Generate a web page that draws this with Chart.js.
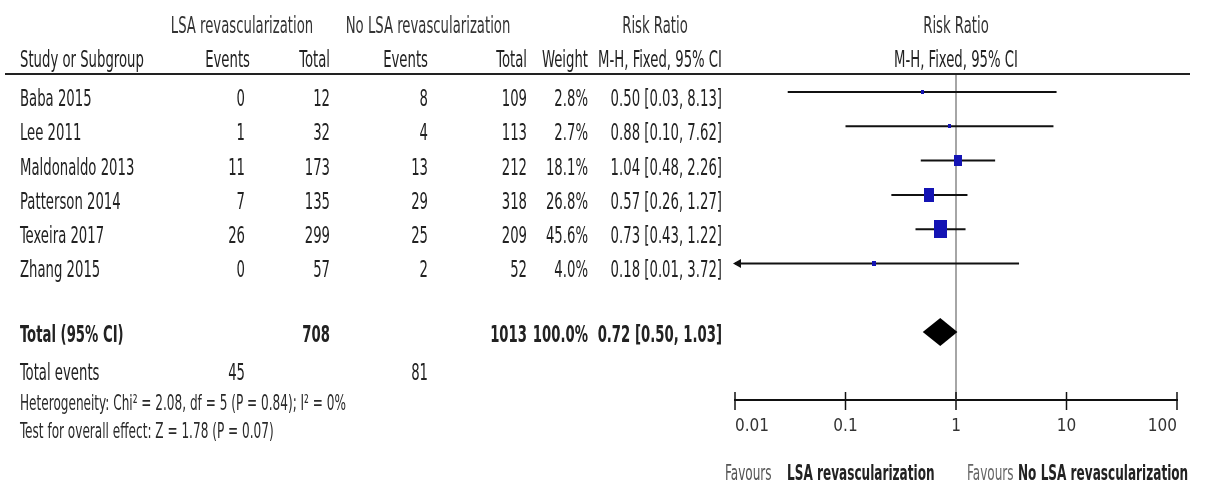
<!DOCTYPE html>
<html>
<head>
<meta charset="utf-8">
<script src="https://cdn.jsdelivr.net/npm/chart.js@4/dist/chart.umd.min.js"></script>
<style>
  html, body { margin: 0; padding: 0; background: #fff; }
  canvas { display: block; }
</style>
</head>
<body>
<canvas id="forest" width="1211" height="490"></canvas>
<script>
// Study-level data
const studies    = ['Baba 2015', 'Lee 2011', 'Maldonaldo 2013', 'Patterson 2014', 'Texeira 2017', 'Zhang 2015'];
const lsaEvents  = [0, 1, 11, 7, 26, 0];
const lsaTotal   = [12, 32, 173, 135, 299, 57];
const noEvents   = [8, 4, 13, 29, 25, 2];
const noTotal    = [109, 113, 212, 318, 209, 52];
const weights    = [2.8, 2.7, 18.1, 26.8, 45.6, 4.0];
const riskRatio  = [0.50, 0.88, 1.04, 0.57, 0.73, 0.18];
const ciLow      = [0.03, 0.10, 0.48, 0.26, 0.43, 0.01];
const ciHigh     = [8.13, 7.62, 2.26, 1.27, 1.22, 3.72];

// Pooled result
const pooledTotals  = [708, 1013];
const pooledEvents  = [45, 81];
const pooledWeight  = 100.0;
const pooledRR      = [0.72, 0.50, 1.03];   // estimate, lower, upper

// Axis
const tickValues = [0.01, 0.1, 1, 10, 100];
const tickLabels = ['0.01', '0.1', '1', '10', '100'];

const FONT = '"Liberation Sans Narrow", "Arial Narrow", "DejaVu Sans Condensed", sans-serif';
const TEXT_SIZE = 23;
const SQUEEZE = 0.64;          // horizontal text compression
const TEXT_COLOR = '#222';
const SQUARE_COLOR = '#1414b4';
const TOTAL_ROW = 7;

function drawText(ctx, s, x, y, align, bold, color, size) {
  ctx.save();
  ctx.translate(x, y);
  ctx.scale(SQUEEZE, 1);
  ctx.font = (bold ? 'bold ' : '') + (size || TEXT_SIZE) + 'px ' + FONT;
  ctx.fillStyle = color || TEXT_COLOR;
  ctx.textAlign = align;
  ctx.textBaseline = 'alphabetic';
  ctx.fillText(s, 0, 0);
  ctx.restore();
}

// Weight-sized marker: box area proportional to study weight
function weightMarker(w) {
  const h = Math.max(4, 2.67 * Math.sqrt(w));
  const wd = Math.max(3, h * 0.7);
  const c = document.createElement('canvas');
  c.width = Math.round(wd);
  c.height = Math.round(h);
  const g = c.getContext('2d');
  g.fillStyle = SQUARE_COLOR;
  g.fillRect(0, 0, c.width, c.height);
  return c;
}

const fmt2 = v => v.toFixed(2);
const ciText = (e, l, h) => `${fmt2(e)} [${fmt2(l)}, ${fmt2(h)}]`;

const datasets = [];
datasets.push({
  label: 'estimates',
  data: riskRatio.map((v, i) => ({ x: v, y: i })),
  pointStyle: ctx => weightMarker(weights[ctx.dataIndex]),
  pointRadius: 5,
  showLine: false
});
studies.forEach((s, i) => {
  datasets.push({
    label: s,
    data: [{ x: ciLow[i], y: i }, { x: ciHigh[i], y: i }],
    showLine: true,
    borderColor: '#111',
    borderWidth: 2,
    pointRadius: 0
  });
});

const forestPlugin = {
  id: 'forestDecor',
  beforeDraw(chart) {
    const ctx = chart.ctx;
    ctx.save();
    ctx.fillStyle = '#fff';
    ctx.fillRect(0, 0, chart.width, chart.height);
    ctx.restore();
  },
  beforeDatasetsDraw(chart) {
    const { ctx, chartArea, scales: { x } } = chart;
    const px = x.getPixelForValue(1);
    ctx.save();
    ctx.strokeStyle = '#a6a6a6';
    ctx.lineWidth = 2;
    ctx.beginPath();
    ctx.moveTo(px, chartArea.top);
    ctx.lineTo(px, chartArea.bottom);
    ctx.stroke();
    ctx.restore();
  },
  afterDatasetsDraw(chart) {
    const { ctx, chartArea, scales: { x, y } } = chart;
    ctx.save();
    // arrows for intervals running off the axis
    ciLow.forEach((lo, i) => {
      if (lo <= x.min) {
        const ax = x.getPixelForValue(x.min);
        const ay = y.getPixelForValue(i);
        ctx.fillStyle = '#111';
        ctx.beginPath();
        ctx.moveTo(ax - 2, ay);
        ctx.lineTo(ax + 6, ay - 4.5);
        ctx.lineTo(ax + 6, ay + 4.5);
        ctx.closePath();
        ctx.fill();
      }
    });
    // pooled diamond
    const dy = y.getPixelForValue(TOTAL_ROW);
    const half = 14;
    ctx.fillStyle = '#000';
    ctx.beginPath();
    ctx.moveTo(x.getPixelForValue(pooledRR[1]), dy);
    ctx.lineTo(x.getPixelForValue(pooledRR[0]), dy - half);
    ctx.lineTo(x.getPixelForValue(pooledRR[2]), dy);
    ctx.lineTo(x.getPixelForValue(pooledRR[0]), dy + half);
    ctx.closePath();
    ctx.fill();
    // axis tick marks
    const axY = chartArea.bottom;
    ctx.strokeStyle = '#111';
    ctx.lineWidth = 1.5;
    tickValues.forEach(v => {
      const tx = x.getPixelForValue(v);
      ctx.beginPath();
      ctx.moveTo(tx, axY - 8);
      ctx.lineTo(tx, axY + 10);
      ctx.stroke();
    });
    ctx.restore();
  },
  afterDraw(chart) {
    const { ctx, chartArea, scales: { x, y } } = chart;
    // header rule
    ctx.save();
    ctx.strokeStyle = '#222';
    ctx.lineWidth = 2;
    ctx.beginPath();
    ctx.moveTo(5, 74);
    ctx.lineTo(1190, 74);
    ctx.stroke();
    ctx.restore();

    const colStudy = 20, colE1 = 245, colT1 = 330, colE2 = 428, colT2 = 527, colW = 588, colCI = 722;
    const plotMid = x.getPixelForValue(1);

    // headers
    drawText(ctx, 'LSA revascularization', 242, 33, 'center', false, '#333');
    drawText(ctx, 'No LSA revascularization', 428, 33, 'center', false, '#333');
    drawText(ctx, 'Risk Ratio', 655, 33, 'center', false, '#333');
    drawText(ctx, 'Risk Ratio', plotMid, 33, 'center', false, '#333');
    drawText(ctx, 'Study or Subgroup', colStudy, 67, 'left');
    drawText(ctx, 'Events', colE1 + 5, 67, 'right');
    drawText(ctx, 'Total', colT1, 67, 'right');
    drawText(ctx, 'Events', colE2, 67, 'right');
    drawText(ctx, 'Total', colT2, 67, 'right');
    drawText(ctx, 'Weight', colW, 67, 'right');
    drawText(ctx, 'M-H, Fixed, 95% CI', colCI, 67, 'right');
    drawText(ctx, 'M-H, Fixed, 95% CI', plotMid, 67, 'center');

    // study rows
    studies.forEach((s, i) => {
      const by = y.getPixelForValue(i) + 14;
      drawText(ctx, s, colStudy, by, 'left');
      drawText(ctx, String(lsaEvents[i]), colE1, by, 'right');
      drawText(ctx, String(lsaTotal[i]), colT1, by, 'right');
      drawText(ctx, String(noEvents[i]), colE2, by, 'right');
      drawText(ctx, String(noTotal[i]), colT2, by, 'right');
      drawText(ctx, weights[i].toFixed(1) + '%', colW, by, 'right');
      drawText(ctx, ciText(riskRatio[i], ciLow[i], ciHigh[i]), colCI, by, 'right');
    });

    // pooled row
    const ty = y.getPixelForValue(TOTAL_ROW) + 10;
    drawText(ctx, 'Total (95% CI)', colStudy, ty, 'left', true);
    drawText(ctx, String(pooledTotals[0]), colT1, ty, 'right', true);
    drawText(ctx, String(pooledTotals[1]), colT2, ty, 'right', true);
    drawText(ctx, pooledWeight.toFixed(1) + '%', colW, ty, 'right', true);
    drawText(ctx, ciText(pooledRR[0], pooledRR[1], pooledRR[2]), colCI, ty, 'right', true);

    drawText(ctx, 'Total events', colStudy, 380, 'left');
    drawText(ctx, String(pooledEvents[0]), colE1, 380, 'right');
    drawText(ctx, String(pooledEvents[1]), colE2, 380, 'right');
    drawText(ctx, 'Heterogeneity: Chi\u00B2 = 2.08, df = 5 (P = 0.84); I\u00B2 = 0%', colStudy, 410, 'left', false, '#2a2a2a', 21);
    drawText(ctx, 'Test for overall effect: Z = 1.78 (P = 0.07)', colStudy, 438, 'left', false, '#2a2a2a', 21);

    // favours labels
    drawText(ctx, 'Favours', 725, 480, 'left', false, '#555', 21);
    drawText(ctx, 'LSA revascularization', 787, 480, 'left', true, '#222', 21);
    drawText(ctx, 'Favours', 967, 480, 'left', false, '#666', 21);
    drawText(ctx, 'No LSA revascularization', 1018, 480, 'left', true, '#222', 21);
  }
};

new Chart(document.getElementById('forest'), {
  type: 'scatter',
  data: { datasets },
  options: {
    responsive: false,
    animation: false,
    events: [],
    layout: { padding: { left: 735, right: 34, top: 75, bottom: 50 } },
    plugins: { legend: { display: false }, tooltip: { enabled: false } },
    scales: {
      x: {
        type: 'logarithmic',
        min: tickValues[0],
        max: tickValues[tickValues.length - 1],
        afterBuildTicks: s => { s.ticks = tickValues.map(v => ({ value: v })); },
        afterFit: s => { s.height = 40; },
        grid: { display: false, drawTicks: false },
        border: { display: true, color: '#111', width: 2 },
        ticks: {
          align: 'inner',
          autoSkip: false,
          maxRotation: 0,
          padding: 16,
          color: '#333',
          font: { family: FONT, size: 17 },
          callback: (v, i) => tickLabels[i]
        }
      },
      y: {
        type: 'linear',
        display: false,
        reverse: true,
        min: -0.496,
        max: 8.98
      }
    }
  },
  plugins: [forestPlugin]
});
</script>
</body>
</html>
